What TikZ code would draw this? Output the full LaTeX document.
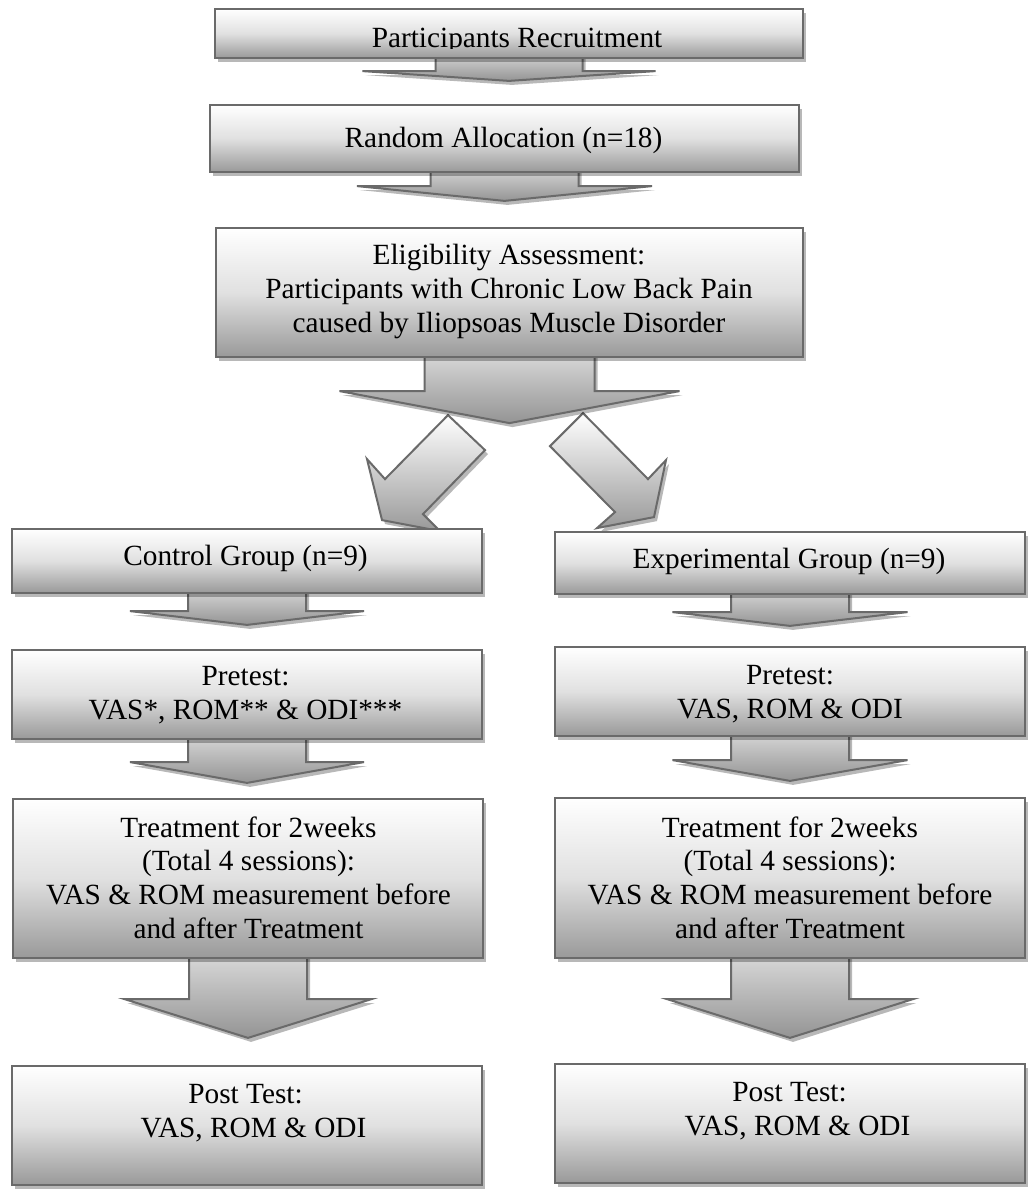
\documentclass[tikz,border=0pt]{standalone}
\usepackage{fontspec}
\setmainfont{Liberation Serif}
\usetikzlibrary{shadows,calc}
\pgfdeclarelayer{bg}
\pgfsetlayers{bg,main}
\definecolor{edgegray}{HTML}{6A6A6A}
\tikzset{
  shadowst/.style={drop shadow={shadow xshift=3pt, shadow yshift=-4pt, fill=black, opacity=0.28}},
  boxst/.style={draw=edgegray, line width=2.2pt, top color=white, bottom color=black!40, middle color=black!12, shadowst, inner sep=0pt},
  arrst/.style={draw=edgegray, line width=2pt, line join=miter, top color=black!14, bottom color=black!42, shadowst},
  darrst/.style={draw=edgegray, line width=2pt, line join=miter, top color=white, bottom color=black!40, shadowst},
  lbl/.style={font=\fontsize{29.3}{33.6}\selectfont, align=center, inner sep=0pt, anchor=base}
}
% box: name, x1, y1, x2, y2
\newcommand\mybox[5]{\node[boxst, minimum width={#4-#2}, minimum height={#5-#3}] (#1) at ({(#2+#4)/2},{(#3+#5)/2}) {};}
% vertical block arrow: from, to, half stem, half wing, wing drop, tip gap
\newcommand\vArrow[6]{\draw[arrst] ($(#1.south)+(-#3,-8)$) -- ($(#1.south)+(-#3,#5)$) -- ($(#1.south)+(-#4,#5)$) -- ($(#1.south |- #2.north)+(0,-#6)$) -- ($(#1.south)+(#4,#5)$) -- ($(#1.south)+(#3,#5)$) -- ($(#1.south)+(#3,-8)$) -- cycle;}
\begin{document}
\begin{tikzpicture}[x=1pt,y=-1pt]
\useasboundingbox (0,0) rectangle (1029,1194);
% ---- boxes
\mybox{rec}{215}{9}{803}{58}
\mybox{rand}{210}{105}{799}{172}
\mybox{elig}{216}{228}{803}{357}
\mybox{ctrl}{12}{529}{482}{593}
\mybox{lpre}{12}{650}{482}{739}
\mybox{ltreat}{13}{799}{483}{958}
\mybox{lpost}{12}{1066}{482}{1185}
\mybox{expg}{555}{532}{1025}{594}
\mybox{rpre}{555}{647}{1025}{736}
\mybox{rtreat}{555}{798}{1025}{958}
\mybox{rpost}{555}{1064}{1025}{1183}
% ---- arrows behind the boxes
\begin{pgfonlayer}{bg}
\draw[darrst] ($(elig.south)+(-61.5,57)$) -- ($(elig.south)+(-24.5,92)$) -- ($(elig.south)+(-86.5,156)$) -- ($(elig.south)+(-69.5,173)$) -- ($(elig.south)+(-127.5,162)$) -- ($(elig.south)+(-142.5,101)$) -- ($(elig.south)+(-124.5,121)$) -- cycle;
\draw[darrst] ($(elig.south)+(73.5,55)$) -- ($(elig.south)+(138.5,121)$) -- ($(elig.south)+(156.5,102)$) -- ($(elig.south)+(144.5,159)$) -- ($(elig.south)+(87.5,170)$) -- ($(elig.south)+(105.5,154)$) -- ($(elig.south)+(40.5,88)$) -- cycle;
\vArrow{rec}{rand}{73.5}{146.5}{12}{23}
\vArrow{rand}{elig}{74}{147.5}{13}{26}
\draw[arrst] ($(elig.south)+(-85,-8)$) -- ($(elig.south)+(-85,33)$) -- ($(elig.south)+(-170,33)$) -- ($(elig.south)+(0,65)$) -- ($(elig.south)+(170,33)$) -- ($(elig.south)+(85,33)$) -- ($(elig.south)+(85,-8)$) -- cycle;
\vArrow{ctrl}{lpre}{59}{117}{17}{24}
\vArrow{lpre}{ltreat}{59}{117}{22}{15}
\vArrow{ltreat}{lpost}{59}{123.5}{40}{27}
\vArrow{expg}{rpre}{59}{117.5}{17}{20}
\vArrow{rpre}{rtreat}{59}{117.5}{23}{16}
\vArrow{rtreat}{rpost}{59}{123}{40}{25}
\end{pgfonlayer}
% ---- texts (anchor base = baseline of last line)
\begin{scope}
\clip (rec.north west) rectangle (803,48.5);
\node[lbl] (t1) at (517,47) {Participants Recruitment};
\end{scope}
\node[lbl] (t2) at (503.5,147) {Random Allocation (n=18)};
\node[lbl] (t3) at (509,332) {Eligibility Assessment:\\Participants with Chronic Low Back Pain\\caused by Iliopsoas Muscle Disorder};
\node[lbl] (t4) at (245.5,565) {Control Group (n=9)};
\node[lbl] (t5) at (789,568) {Experimental Group (n=9)};
\node[lbl] (t6) at (245.5,719.5) {Pretest:\\VAS*, ROM** \& ODI***};
\node[lbl] (t7) at (790,718) {Pretest:\\VAS, ROM \& ODI};
\node[lbl] (t8) at (248.5,938) {Treatment for 2weeks\\(Total 4 sessions):\\VAS \& ROM measurement before\\and after Treatment};
\node[lbl] (t9) at (790,938) {Treatment for 2weeks\\(Total 4 sessions):\\VAS \& ROM measurement before\\and after Treatment};
\node[lbl] (t10) at (245.5,1137) {Post Test:\\\hspace*{16pt}VAS, ROM \& ODI};
\node[lbl] (t11) at (789.5,1135.5) {Post Test:\\\hspace*{16pt}VAS, ROM \& ODI};
\end{tikzpicture}
\end{document}
